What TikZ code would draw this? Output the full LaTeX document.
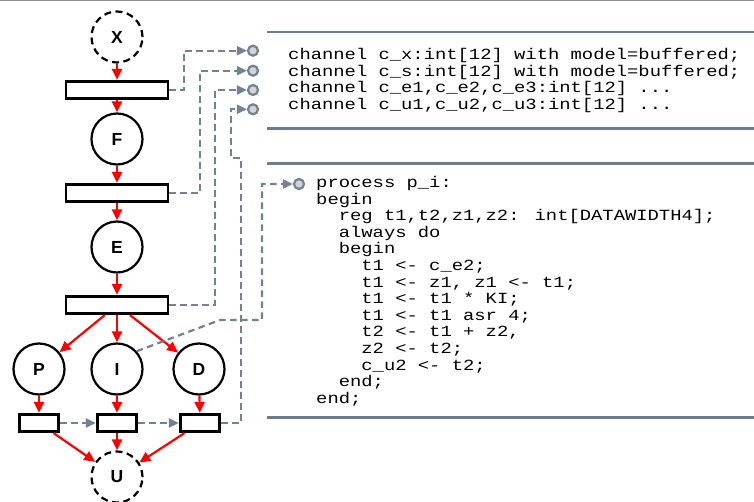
\documentclass[tikz,border=0pt]{standalone}
\usepackage{fontspec}
\setmainfont{Liberation Sans}
\newfontfamily\codefont[FakeStretch=1.215]{Liberation Mono}
\usetikzlibrary{arrows.meta}
\definecolor{linkgray}{RGB}{115,130,145}
\definecolor{portfill}{RGB}{212,212,212}
\definecolor{rulegray}{RGB}{110,125,140}
\definecolor{edgegray}{RGB}{140,140,140}
\begin{document}
\begin{tikzpicture}[x=1pt,y=-1pt,
  place/.style={circle,draw=black,line width=2.2pt,minimum size=51pt,inner sep=0pt,
    font=\fontsize{17.5}{17.5}\selectfont\bfseries},
  dplace/.style={place,dash pattern=on 7pt off 4.5pt},
  trans/.style={rectangle,draw=black,line width=2.7pt,fill=white,
    minimum width=102pt,minimum height=17.5pt,inner sep=0pt},
  strans/.style={trans,minimum width=39.5pt},
  flow/.style={draw=red,line width=2.2pt,-{Triangle[length=11pt,width=10pt]}},
  link/.style={draw=linkgray,line width=2.2pt,dash pattern=on 6.5pt off 4.5pt},
  linkarrow/.style={link,-{Triangle[length=10pt,width=9pt]}},
  port/.style={circle,draw=linkgray,fill=portfill,line width=2.2pt,minimum size=10pt,inner sep=0pt},
  rulebar/.style={draw=rulegray,line width=2.7pt},
  code/.style={anchor=base west,inner sep=0pt,font=\codefont\fontsize{15.5}{16.6}\selectfont}
]
\useasboundingbox (0,0) rectangle (754,502);
\draw[edgegray,line width=1.5pt] (0,0.75) -- (754,0.75);

% places and transitions
\node[dplace] (X) at (117,37) {X};
\node[trans] (t1) at (117,90) {};
\node[place] (F) at (117,139) {F};
\node[trans] (t2) at (117,193) {};
\node[place] (E) at (117,247) {E};
\node[trans] (t3) at (117,305) {};
\node[place] (P) at (39,369) {P};
\node[place] (I) at (117,369) {I};
\node[place] (D) at (199,369) {D};
\node[strans] (tp) at (39,423) {};
\node[strans] (ti) at (117,423) {};
\node[strans] (td) at (200,423) {};
\node[dplace] (U) at (117,477) {U};

% red flow
\draw[flow] (X) -- (t1);
\draw[flow] (t1) -- (F);
\draw[flow] (F) -- (t2);
\draw[flow] (t2) -- (E);
\draw[flow] (E) -- (t3);
\draw[flow] (t3) -- (P);
\draw[flow] (t3) -- (I);
\draw[flow] (t3) -- (D);
\draw[flow] (P) -- (tp);
\draw[flow] (I) -- (ti);
\draw[flow] (D) -- (td);
\draw[flow] (tp) -- (U);
\draw[flow] (ti) -- (U);
\draw[flow] (td) -- (U);

% ports
\node[port] (p1) at (253,50.7) {};
\node[port] (p2) at (253,70.7) {};
\node[port] (p3) at (253,90) {};
\node[port] (p4) at (253,109.3) {};
\node[port] (pp) at (299,184) {};

% rules
\draw[rulebar] (267,32) -- (754,32);
\draw[rulebar] (267,128.5) -- (754,128.5);
\draw[rulebar] (267,163.3) -- (754,163.3);
\draw[rulebar] (267,417.7) -- (754,417.7);

% dashed links
\draw[linkarrow] (t1.east) -- (184,90) -- (184,50.7) -- (p1);
\draw[linkarrow] (t2.east) -- (200,193) -- (200,70.7) -- (p2);
\draw[linkarrow] (t3.east) -- (215,305) -- (215,90) -- (p3);
\draw[linkarrow] (td.east) -- (241,423) -- (241,158) -- (231,158) -- (231,109.3) -- (p4);
\draw[linkarrow] (I.42) -- (220,320) -- (262,320) -- (262,184) -- (pp);
\draw[linkarrow] (tp) -- (ti);
\draw[linkarrow] (ti) -- (td);

% channel declarations
\node[code] (c1) at (288,59.5) {channel c\_x:int[12] with model=buffered;};
\node[code] (c2) at (288,76.1) {channel c\_s:int[12] with model=buffered;};
\node[code] (c3) at (288,92.7) {channel c\_e1,c\_e2,c\_e3:int[12] ...};
\node[code] (c4) at (288,109.3) {channel c\_u1,c\_u2,c\_u3:int[12] ...};

% process text
\node[code] (l1) at (316,187.5) {process p\_i:};
\node[code] (l2) at (316,204.1) {begin};
\node[code] (l3) at (338.6,220.7) {reg t1,t2,z1,z2: int[DATAWIDTH4];};
\node[code] (l4) at (338.6,237.3) {always do};
\node[code] (l5) at (338.6,253.9) {begin};
\node[code] (l6) at (361.2,270.5) {t1 <- c\_e2;};
\node[code] (l7) at (361.2,287.1) {t1 <- z1, z1 <- t1;};
\node[code] (l8) at (361.2,303.7) {t1 <- t1 * KI;};
\node[code] (l9) at (361.2,320.3) {t1 <- t1 asr 4;};
\node[code] (l10) at (361.2,336.9) {t2 <- t1 + z2,};
\node[code] (l11) at (361.2,353.5) {z2 <- t2;};
\node[code] (l12) at (361.2,370.1) {c\_u2 <- t2;};
\node[code] (l13) at (338.6,386.7) {end;};
\node[code] (l14) at (316,403.3) {end;};
\end{tikzpicture}
\end{document}
